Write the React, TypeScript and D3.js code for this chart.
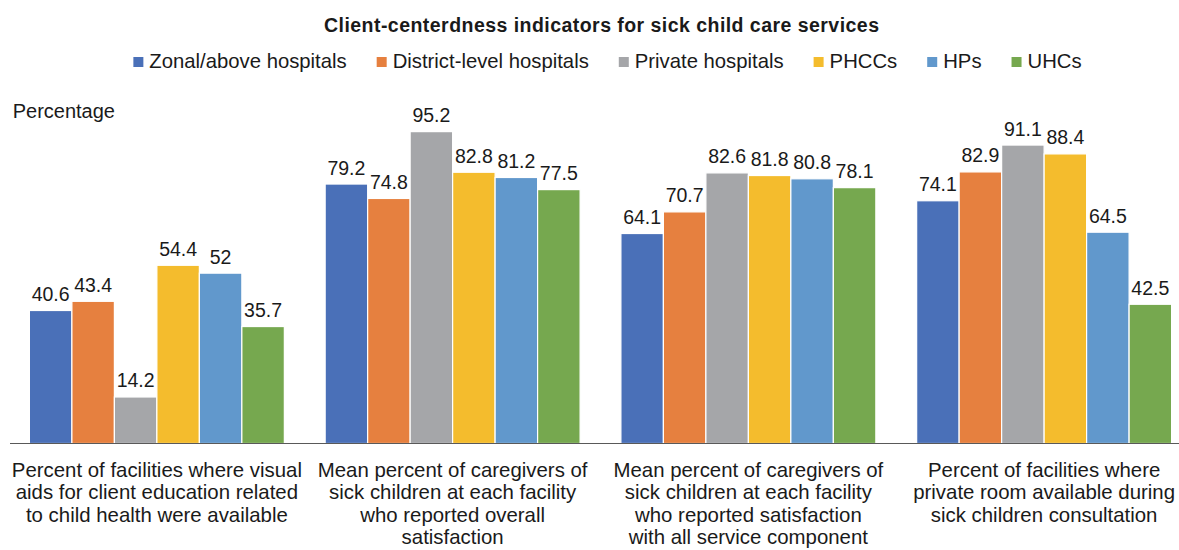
import React, { useEffect, useRef } from "react";
import * as d3 from "d3";

const categories: string[][] = [
  ["Percent of facilities where visual", "aids for client education related", "to child health were available"],
  ["Mean percent of caregivers of", "sick children at each facility", "who reported overall", "satisfaction"],
  ["Mean percent of caregivers of", "sick children at each facility", "who reported satisfaction", "with all service component"],
  ["Percent of facilities where", "private room available during", "sick children consultation"],
];

const seriesNames = ["Zonal/above hospitals", "District-level hospitals", "Private hospitals", "PHCCs", "HPs", "UHCs"];
const zonal = [40.6, 79.2, 64.1, 74.1];
const district = [43.4, 74.8, 70.7, 82.9];
const privateH = [14.2, 95.2, 82.6, 91.1];
const phccs = [54.4, 82.8, 81.8, 88.4];
const hps = [52, 81.2, 80.8, 64.5];
const uhcs = [35.7, 77.5, 78.1, 42.5];
const seriesValues = [zonal, district, privateH, phccs, hps, uhcs];
const colors = ["#4a70b8", "#e6803f", "#a5a6a9", "#f4bc2d", "#6198cc", "#76a84f"];

const title = "Client-centerdness indicators for sick child care services";
const yLabel = "Percentage";

const W = 1179;
const H = 550;
const FONT = "'Liberation Sans', Arial, sans-serif";
const TEXT = "#1a1a1a";

export default function App() {
  const ref = useRef<SVGSVGElement | null>(null);

  useEffect(() => {
    const svg = d3.select(ref.current);
    svg.selectAll("*").remove();

    const x0 = d3
      .scaleBand<number>()
      .domain(d3.range(categories.length))
      .range([9, 1192])
      .paddingInner(0.138)
      .paddingOuter(0.069);
    const x1 = d3
      .scaleBand<number>()
      .domain(d3.range(seriesNames.length))
      .range([0, x0.bandwidth()]);
    const y = d3.scaleLinear().domain([0, 100]).range([443.5, 115.9]);

    // title
    svg
      .append("text")
      .attr("x", 601.5)
      .attr("y", 31.7)
      .attr("text-anchor", "middle")
      .attr("font-family", FONT)
      .attr("font-weight", "bold")
      .attr("font-size", 19.5)
      .attr("fill", TEXT)
      .attr("textLength", 555)
      .attr("lengthAdjust", "spacing")
      .text(title);

    // legend
    const lg = svg.append("g");
    let cx = 0;
    seriesNames.forEach((name, i) => {
      const g = lg.append("g");
      g.append("rect")
        .attr("x", cx)
        .attr("y", 57)
        .attr("width", 10)
        .attr("height", 10)
        .attr("fill", colors[i]);
      const t = g
        .append("text")
        .attr("x", cx + 16)
        .attr("y", 68.3)
        .attr("font-family", FONT)
        .attr("font-size", 20.3)
        .attr("fill", TEXT)
        .text(name);
      const w = (t.node() as SVGTextElement).getComputedTextLength();
      cx += 16 + w + 30;
    });
    const totalW = cx - 30;
    lg.attr("transform", `translate(${607.5 - totalW / 2},0)`);

    // y label
    svg
      .append("text")
      .attr("x", 12.7)
      .attr("y", 117.5)
      .attr("font-family", FONT)
      .attr("font-size", 20)
      .attr("fill", TEXT)
      .text(yLabel);

    // bars
    const groups = svg
      .append("g")
      .selectAll("g")
      .data(categories.map((_, ci) => ci))
      .join("g")
      .attr("transform", (ci) => `translate(${x0(ci)},0)`);

    groups
      .selectAll("rect")
      .data((ci) => seriesValues.map((s, si) => ({ si, v: s[ci] })))
      .join("rect")
      .attr("x", (d) => x1(d.si)!)
      .attr("y", (d) => y(d.v))
      .attr("width", x1.bandwidth())
      .attr("height", (d) => y(0) - y(d.v))
      .attr("fill", (d) => colors[d.si])
      .attr("stroke", "#ffffff")
      .attr("stroke-width", 1.2);

    groups
      .selectAll("text.val")
      .data((ci) => seriesValues.map((s, si) => ({ si, v: s[ci] })))
      .join("text")
      .attr("class", "val")
      .attr("x", (d) => x1(d.si)! + x1.bandwidth() / 2)
      .attr("y", (d) => y(d.v) - 9.5)
      .attr("text-anchor", "middle")
      .attr("font-family", FONT)
      .attr("font-size", 19.5)
      .attr("fill", TEXT)
      .text((d) => String(d.v));

    // axis line
    svg
      .append("line")
      .attr("x1", 10)
      .attr("x2", W)
      .attr("y1", y(0))
      .attr("y2", y(0))
      .attr("stroke", "#595959")
      .attr("stroke-width", 1.2);

    // category labels
    categories.forEach((lines, ci) => {
      const t = svg
        .append("text")
        .attr("text-anchor", "middle")
        .attr("font-family", FONT)
        .attr("font-size", 20.4)
        .attr("fill", TEXT);
      lines.forEach((ln, li) => {
        t.append("tspan")
          .attr("x", x0(ci)! + x0.bandwidth() / 2)
          .attr("y", 476.5 + li * 22.5)
          .text(ln);
      });
    });
  }, []);

  return (
    <svg
      ref={ref}
      width={W}
      height={H}
      style={{ position: "absolute", left: 0, top: 0, background: "#fff" }}
    />
  );
}
